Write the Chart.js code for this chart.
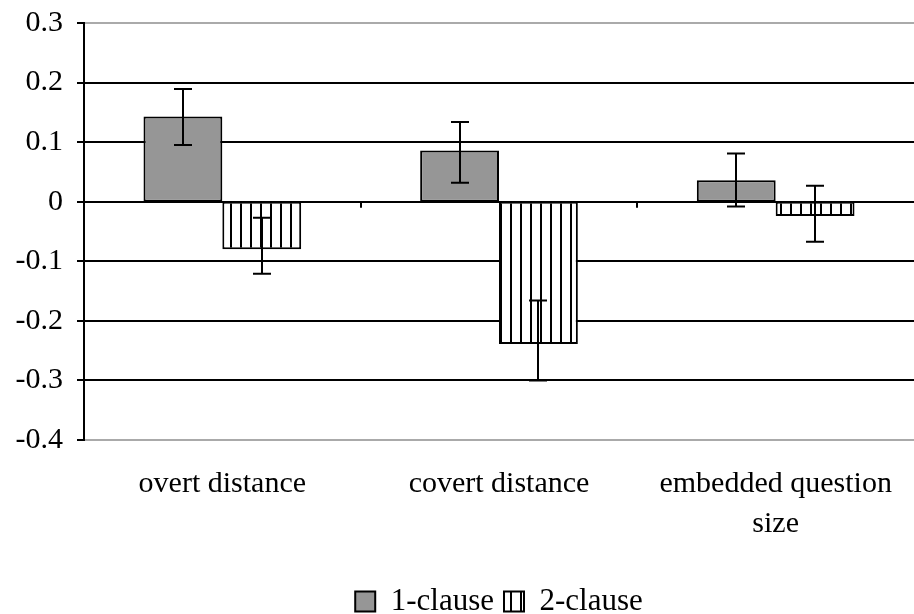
<!DOCTYPE html>
<html>
<head>
<meta charset="utf-8">
<script src="https://cdn.jsdelivr.net/npm/chart.js@4.4.1/dist/chart.umd.min.js"></script>
<style>
  html, body { margin: 0; padding: 0; background: #fff; }
  #wrap { width: 914px; height: 614px; }
</style>
</head>
<body>
<div id="wrap"><canvas id="chart" width="914" height="614"></canvas></div>
<script>
const categories = ["overt distance", "covert distance", ["embedded question", "size"]];
const seriesNames = ["1-clause", "2-clause"];
const oneClause = [0.143, 0.086, 0.036];
const twoClause = [-0.080, -0.239, -0.024];
const oneClauseLow = [0.095, 0.032, -0.008];
const oneClauseHigh = [0.189, 0.134, 0.081];
const twoClauseLow = [-0.121, -0.300, -0.067];
const twoClauseHigh = [-0.027, -0.166, 0.027];
const yTickLabels = ["-0.4", "-0.3", "-0.2", "-0.1", "0", "0.1", "0.2", "0.3"];

const FONT = "'Liberation Serif', 'Times New Roman', serif";

const makeStripes = () => {
  const c = document.createElement("canvas");
  c.width = 10;
  c.height = 10;
  const g = c.getContext("2d");
  g.fillStyle = "#fff";
  g.fillRect(0, 0, 10, 10);
  g.fillStyle = "#000";
  g.fillRect(0, 0, 2, 10);
  return g.createPattern(c, "repeat");
};

const stripes = makeStripes();

// error bars and the small category ticks on the zero line
const extras = {
  id: "extras",
  afterDatasetsDraw(chart) {
    const ctx = chart.ctx;
    const y = chart.scales.y;
    const x = chart.scales.x;
    const ranges = [
      [oneClauseLow, oneClauseHigh],
      [twoClauseLow, twoClauseHigh]
    ];
    ctx.save();
    ctx.strokeStyle = "#000";
    ctx.lineWidth = 2;
    ranges.forEach(([low, high], di) => {
      chart.getDatasetMeta(di).data.forEach((bar, i) => {
        const cx = Math.round(bar.x);
        const yl = y.getPixelForValue(low[i]);
        const yh = y.getPixelForValue(high[i]);
        ctx.beginPath();
        ctx.moveTo(cx, yl);
        ctx.lineTo(cx, yh);
        ctx.moveTo(cx - 9, yl);
        ctx.lineTo(cx + 9, yl);
        ctx.moveTo(cx - 9, yh);
        ctx.lineTo(cx + 9, yh);
        ctx.stroke();
      });
    });
    const y0 = y.getPixelForValue(0);
    const step = (x.right - x.left) / categories.length;
    ctx.beginPath();
    for (let i = 1; i < categories.length; i++) {
      const px = Math.round(x.left + step * i);
      ctx.moveTo(px, y0);
      ctx.lineTo(px, y0 + 6);
    }
    ctx.stroke();
    ctx.restore();
  }
};

new Chart(document.getElementById("chart"), {
  type: "bar",
  data: {
    labels: categories,
    datasets: [
      {
        label: seriesNames[0],
        data: oneClause,
        backgroundColor: "#969696",
        borderColor: "#000",
        borderWidth: 2,
        borderSkipped: false
      },
      {
        label: seriesNames[1],
        data: twoClause,
        backgroundColor: stripes,
        borderColor: "#000",
        borderWidth: 2,
        borderSkipped: false
      }
    ]
  },
  options: {
    responsive: false,
    animation: false,
    layout: {
      padding: { top: 23, right: 0, bottom: -13, left: 0 }
    },
    datasets: {
      bar: {
        categoryPercentage: 0.57,
        barPercentage: 1.0
      }
    },
    plugins: {
      legend: {
        position: "bottom",
        fullSize: false,
        labels: {
          color: "#000",
          font: { family: FONT, size: 31 },
          boxWidth: 20,
          boxHeight: 20,
          padding: 10
        }
      },
      tooltip: { enabled: false }
    },
    scales: {
      x: {
        grid: { display: false },
        border: { display: false },
        ticks: {
          color: "#000",
          font: { family: FONT, size: 30, lineHeight: 1.33 },
          padding: 16,
          maxRotation: 0,
          autoSkip: false
        },
        afterFit: (scale) => {
          scale.height = 136;
        }
      },
      y: {
        min: -0.4,
        max: 0.3,
        border: { display: true, color: "#000", width: 2 },
        grid: {
          color: (ctx) => (ctx.index === 0 || ctx.index === yTickLabels.length - 1 ? "#aaaaaa" : "#000"),
          lineWidth: 2,
          tickColor: "#000",
          tickLength: 7
        },
        ticks: {
          stepSize: 0.1,
          color: "#000",
          font: { family: FONT, size: 30 },
          padding: 14,
          callback: (value, index) => yTickLabels[index]
        },
        afterFit: (scale) => {
          scale.width = 84;
          scale.paddingTop = 0;
          scale.paddingBottom = 0;
        }
      }
    }
  },
  plugins: [extras]
});
</script>
</body>
</html>
